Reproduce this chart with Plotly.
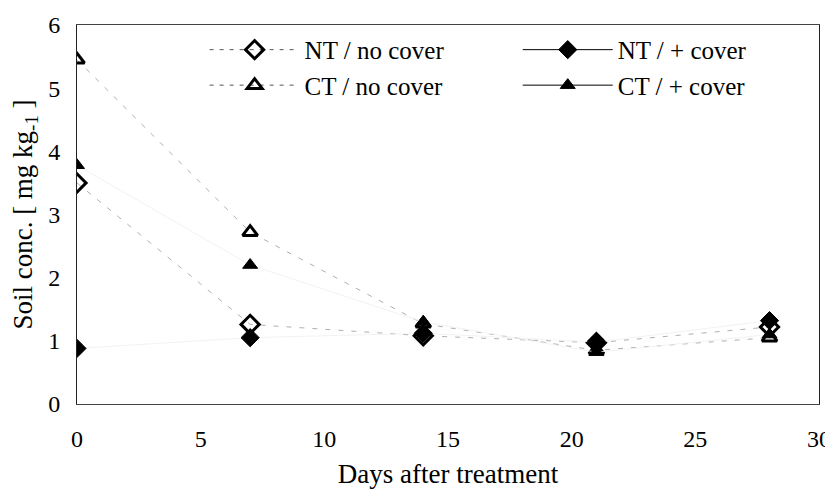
import plotly.graph_objects as go

days = [0, 7, 14, 21, 28]
nt_no_cover = [3.5, 1.26, 1.08, 0.97, 1.22]
nt_cover = [0.88, 1.05, 1.12, 0.98, 1.32]
ct_no_cover = [5.45, 2.72, 1.27, 0.85, 1.05]
ct_cover = [3.78, 2.2, 1.3, 0.82, 1.1]

x_ticks = [0, 5, 10, 15, 20, 25, 30]
y_ticks = [0, 1, 2, 3, 4, 5, 6]

FONT = "Liberation Serif"

series = [
    ("NT / no cover", nt_no_cover, "diamond-open", "dash", "legend"),
    ("NT / + cover", nt_cover, "diamond", "solid", "legend2"),
    ("CT / no cover", ct_no_cover, "triangle-up-open", "dash", "legend"),
    ("CT / + cover", ct_cover, "triangle-up", "solid", "legend2"),
]

def marker(sym):
    return dict(symbol=sym, size=13 if "triangle" in sym else 14, color="black",
                line=dict(color="black", width=3 if "open" in sym else 1))

fig = go.Figure()
for name, vals, sym, dash, lg in series:
    if dash == "dash":
        line = dict(color="#9a9a9a", width=0.8, dash="5px,8px")
    else:
        line = dict(color="#efefef", width=0.8)
    fig.add_trace(go.Scatter(
        x=days, y=vals, mode="lines+markers", name=name, showlegend=False,
        line=line, marker=marker(sym),
    ))

# legend entries
for name, vals, sym, dash, lg in series:
    if dash == "dash":
        line = dict(color="#555555", width=1, dash="4px,6px")
    else:
        line = dict(color="black", width=1)
    fig.add_trace(go.Scatter(
        x=[None], y=[None], mode="lines+markers", name=name, legend=lg,
        line=line, marker=marker(sym),
    ))

legend_common = dict(orientation="v", yanchor="top", xanchor="left",
                     font=dict(family=FONT, size=25, color="black"),
                     bgcolor="rgba(0,0,0,0)", itemwidth=90, tracegroupgap=0)

fig.update_layout(
    width=825, height=481,
    margin=dict(l=69, r=14, t=17, b=85, autoexpand=False),
    paper_bgcolor="white", plot_bgcolor="white",
    font=dict(family=FONT, size=24, color="black"),
    legend=dict(x=0.172, y=0.995, **legend_common),
    legend2=dict(x=0.594, y=0.995, **legend_common),
    xaxis=dict(range=[0, 30], tickvals=x_ticks, showgrid=False, zeroline=False,
               showline=True, linecolor="#444444", linewidth=1, mirror=True,
               ticks="", ticklabelstandoff=13, automargin=False,
               ticklabeloverflow="allow",
               tickfont=dict(family=FONT, size=24),
               title=dict(text="Days after treatment", standoff=16,
                          font=dict(family=FONT, size=27))),
    yaxis=dict(range=[0, 6], tickvals=y_ticks, showgrid=False, zeroline=False,
               showline=True, linecolor="#222222", linewidth=1, mirror=True,
               ticks="", ticklabelstandoff=11, automargin=False,
               tickfont=dict(family=FONT, size=24),
               title=dict(text="Soil conc. [ mg kg<sub>-1</sub> ]", standoff=14,
                          font=dict(family=FONT, size=27))),
)

fig.write_html("out.html")
